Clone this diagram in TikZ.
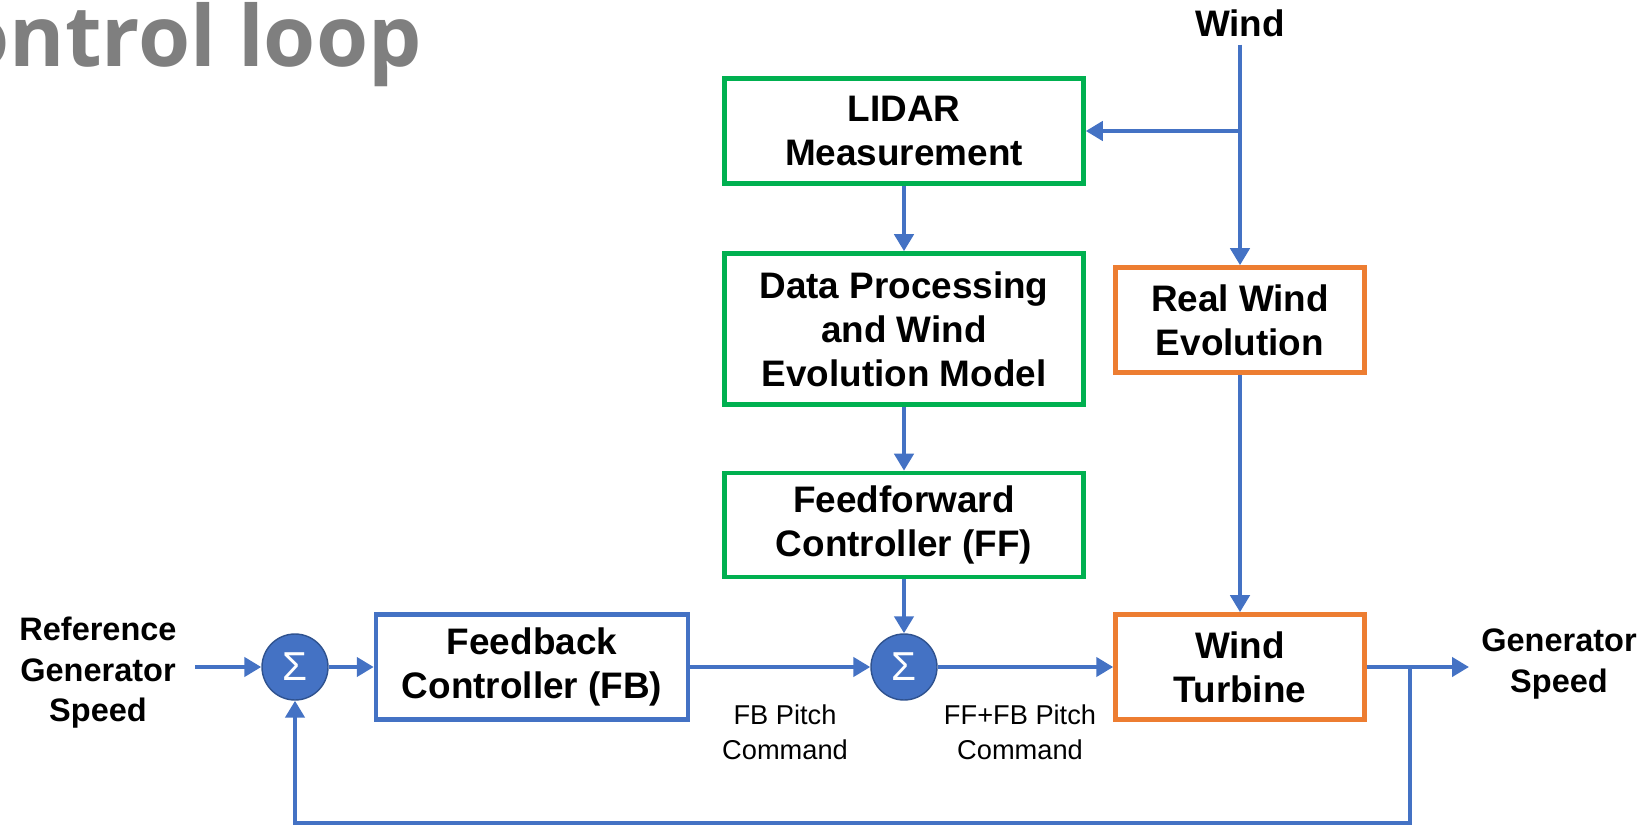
\documentclass[tikz,border=0pt]{standalone}
\usepackage{fontspec}
\setmainfont{Liberation Sans}
\newfontfamily\titlefont{Open Sans}
\usetikzlibrary{arrows.meta}
\definecolor{lineblue}{HTML}{4472C4}
\definecolor{sumedge}{HTML}{2F528F}
\definecolor{boxgreen}{HTML}{00B050}
\definecolor{boxorange}{HTML}{ED7D31}
\definecolor{titlegray}{HTML}{7F7F7F}

\begin{document}
\begin{tikzpicture}[x=0.02cm,y=-0.02cm,>={Triangle[length=0.34cm,width=0.38cm]},line width=2.6pt,
    block/.style={draw,align=center,inner sep=2pt,font=\fontsize{21}{25}\selectfont\bfseries},
    green block/.style={block,draw=boxgreen,minimum width=7.18cm},
    orange block/.style={block,draw=boxorange,minimum width=4.98cm,minimum height=2.1cm},
    blue block/.style={block,draw=lineblue,minimum width=6.24cm,minimum height=2.1cm},
    sum node/.style={circle,draw=sumedge,line width=0.8pt,fill=lineblue,text=white,minimum size=1.32cm,inner sep=0pt,font=\fontsize{23}{25}\selectfont},
    side text/.style={align=center,font=\fontsize{18.5}{23}\selectfont\bfseries},
    cmd text/.style={align=center,font=\fontsize{15.5}{20}\selectfont}]

  \useasboundingbox (0,0) rectangle (1646,827);

  \node[anchor=base east,text=titlegray,font=\titlefont\fontsize{48}{48}\selectfont\bfseries] (title) at (430,67) {Control loop};

  \node[green block,minimum height=2.1cm] (lidar) at (904,131) {LIDAR\\Measurement};
  \node[green block,minimum height=3.02cm] (data) at (904,329) {Data Processing\\and Wind\\Evolution Model};
  \node[green block,minimum height=2.08cm] (ff) at (904,525) {Feedforward\\Controller (FF)};
  \node[orange block] (real) at (1240,320) {Real Wind\\Evolution};
  \node[orange block] (wt) at (1240,667) {Wind\\Turbine};
  \node[blue block] (fb) at (532,667) {Feedback\\Controller (FB)};
  \node[sum node] (s1) at (295,667) {Σ};
  \node[sum node] (s2) at (904,667) {Σ};

  \node[font=\fontsize{21}{25}\selectfont\bfseries] (wind) at (1240,23) {Wind};
  \node[side text] (ref) at (98,673) {Reference\\Generator\\Speed};
  \node[side text] (gen) at (1559,664) {Generator\\Speed};
  \node[cmd text] (fbcmd) at (785,732) {FB Pitch\\Command};
  \node[cmd text] (ffcmd) at (1020,732) {FF+FB Pitch\\Command};

  \coordinate (tap) at (1410,667);
  \coordinate (loop) at (1410,823);
  \coordinate (out) at (1469,667);
  \coordinate (refout) at (195,667);

  \path[->,lineblue]
    (wind) edge (real)
    (wind |- lidar) edge (lidar)
    (lidar) edge (data)
    (data) edge (ff)
    (ff) edge (s2)
    (real) edge (wt)
    (refout) edge (s1)
    (s1) edge (fb)
    (fb) edge (s2)
    (s2) edge (wt)
    (wt) edge (out);
  \draw[->,lineblue] (tap) -- (loop) -| (s1);
\end{tikzpicture}
\end{document}
